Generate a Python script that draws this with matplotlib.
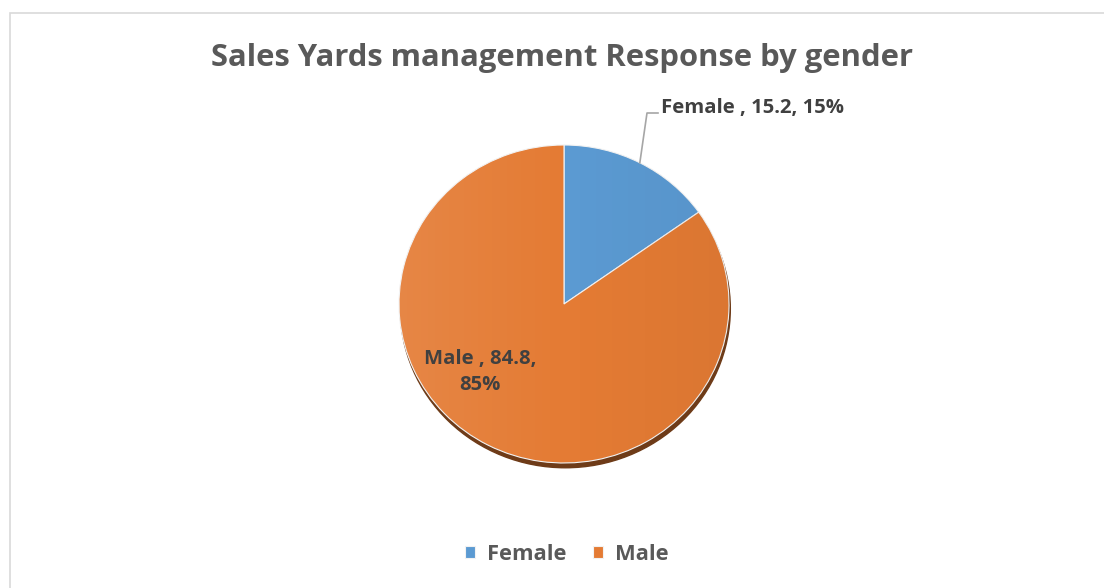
# %% setup
import numpy as np
import matplotlib
matplotlib.use("Agg")
import matplotlib.pyplot as plt
from matplotlib.patches import Ellipse, Rectangle, Circle
from matplotlib.lines import Line2D

# data
labels = ["Female", "Male"]
values = [15.2, 84.8]
pcts = ["15%", "85%"]
colors = ["#5B9AD2", "#E47B34"]

title = "Sales Yards management Response by gender"

W, H = 1104, 588
FONT = ["Open Sans", "DejaVu Sans"]
plt.rcParams["font.family"] = FONT

fig = plt.figure(figsize=(W / 100, H / 100), dpi=100)
renderer = fig.canvas.get_renderer()

def fx(x):
    return x / W

def fy(y):
    return 1 - y / H

def fit(txt, width_px):
    # scale font so the text is about as wide as in the screenshot
    bb = txt.get_window_extent(renderer)
    txt.set_fontsize(txt.get_fontsize() * width_px / bb.width)

# chart area border (cut off at right / bottom like the screenshot)
fig.add_artist(Rectangle((fx(10), fy(H + 20)), fx(W + 20), (H + 7) / H,
                         transform=fig.transFigure, fill=False,
                         edgecolor="#D9D9D9", linewidth=1.2))

# %% pie
px0, py0, pw, ph = 399, 145, 330, 318
ax = fig.add_axes([fx(px0), fy(py0 + ph), pw / W, ph / H])
wedges, _ = ax.pie(values, colors=colors, startangle=90, counterclock=False,
                   wedgeprops=dict(edgecolor="#F2F2F2", linewidth=0.8))
ax.set_aspect("auto")
ax.axis("off")

# dark rim under the pie (3d look)
ax.add_patch(Ellipse((0.008, -0.03), 2.0, 2.0, color="#6E3B18", zorder=0.5, clip_on=False))

# light-to-dark shading across the pie
grad = np.zeros((2, 256, 4))
t = np.linspace(0, 1, 256)
grad[..., :3] = np.where(t < 0.5, 1.0, 0.0)[None, :, None]
grad[..., 3] = np.where(t < 0.5, 0.09 * (1 - 2 * t), 0.04 * (2 * t - 1))[None, :]
im = ax.imshow(grad, extent=(-1, 1, -1, 1), aspect="auto", zorder=2)
im.set_clip_path(Circle((0, 0), 1, transform=ax.transData))
ax.set_xlim(-1, 1)
ax.set_ylim(-1, 1)

# %% labels
t_title = fig.text(fx(562), fy(58), title, ha="center", va="center",
                   fontsize=22, fontweight="bold", color="#595959")
fit(t_title, 701)

# female label with leader line
mid = np.deg2rad(values[0] / sum(values) * 360 / 2)
tip = (px0 + pw / 2 + pw / 2 * np.sin(mid), py0 + ph / 2 - ph / 2 * np.cos(mid))
elbow = (647, 113)
fig.add_artist(Line2D([fx(tip[0]), fx(elbow[0]), fx(658)],
                      [fy(tip[1]), fy(elbow[1]), fy(113)],
                      transform=fig.transFigure, color="#A6A6A6", linewidth=1.2))
t_f = fig.text(fx(661), fy(108), f"{labels[0]} , {values[0]}, {pcts[0]}",
               ha="left", va="center", fontsize=14, fontweight="bold", color="#404040")
fit(t_f, 184)
lab_size = t_f.get_fontsize()

fig.text(fx(480), fy(372), f"{labels[1]} , {values[1]},\n{pcts[1]}",
         ha="center", va="center", multialignment="center", linespacing=1.45,
         fontsize=lab_size, fontweight="bold", color="#404040")

# legend
leg = fig.legend(wedges, labels, loc="center", bbox_to_anchor=(fx(567), fy(554)),
                 ncol=2, frameon=False, handlelength=0.45, handleheight=0.45,
                 handletextpad=0.55, columnspacing=1.2,
                 prop=dict(family=FONT, weight="bold", size=lab_size * 1.08),
                 labelcolor="#595959")

fig.savefig("out.png", dpi=100)
